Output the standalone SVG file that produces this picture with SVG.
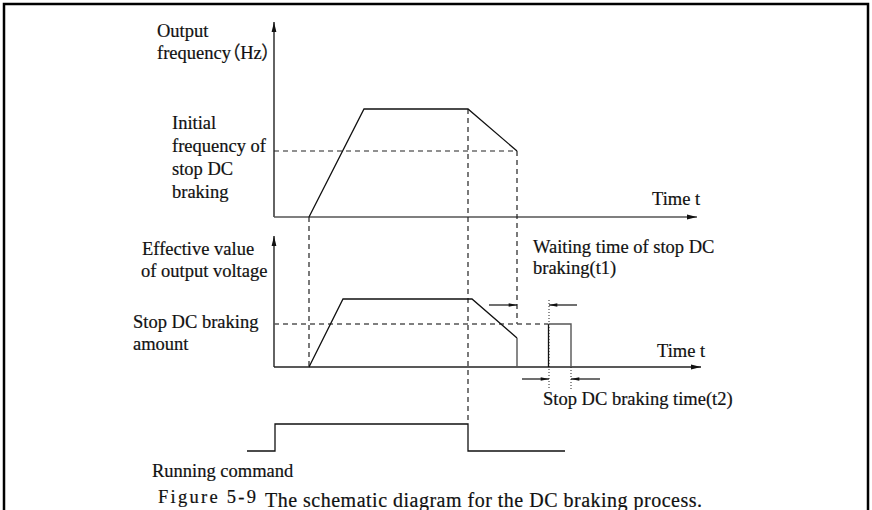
<svg xmlns="http://www.w3.org/2000/svg" width="872" height="510" viewBox="0 0 872 510">
<defs>
<style>
.t{font-family:"Liberation Serif","Noto Sans CJK SC",serif;font-size:18.5px;fill:#111;stroke:#111;stroke-width:0.2;font-feature-settings:"palt";}
.ax{stroke:#222;stroke-width:1.4;fill:none;}
.axg{stroke:#555;stroke-width:1.6;fill:none;}
.w{stroke:#111;stroke-width:1.3;fill:none;}
.wg{stroke:#555;stroke-width:1.4;fill:none;}
.d{stroke:#222;stroke-width:1.2;fill:none;stroke-dasharray:5,4;}
.dg{stroke:#555;stroke-width:1.4;fill:none;stroke-dasharray:5,4;}
.dot{stroke:#222;stroke-width:1;fill:none;stroke-dasharray:1,2;}
.ar{stroke:#111;stroke-width:1.2;fill:none;}
</style>
<marker id="ah" viewBox="0 0 10 6" refX="10" refY="3" markerWidth="10" markerHeight="6" markerUnits="userSpaceOnUse" orient="auto">
<path d="M0,0.6 L10,3 L0,5.4 Z" fill="#111"/>
</marker>
<marker id="sh" viewBox="0 0 10 6" refX="10" refY="3" markerWidth="9" markerHeight="5" markerUnits="userSpaceOnUse" orient="auto">
<path d="M0,0.8 L10,3 L0,5.2 Z" fill="#111"/>
</marker>
</defs>
<rect x="0" y="0" width="872" height="510" fill="#fff"/>
<rect id="frame" x="4" y="4" width="864" height="530" fill="none" stroke="#000" stroke-width="2.5"/>

<g id="axes">
<line class="ax" x1="274" y1="217" x2="274" y2="22" marker-end="url(#ah)"/>
<line class="axg" x1="274" y1="217" x2="697" y2="217" marker-end="url(#ah)"/>
<line class="ax" x1="274" y1="367" x2="274" y2="236" marker-end="url(#ah)"/>
<line class="ax" x1="274" y1="367" x2="701" y2="367" marker-end="url(#ah)"/>
</g>

<g id="connectors">
<line class="d" x1="274" y1="151" x2="517" y2="151"/>
<line class="d" x1="309" y1="217" x2="309" y2="367"/>
<line class="d" x1="468" y1="109" x2="468" y2="424"/>
<line class="d" x1="517" y1="151" x2="517" y2="324"/>
<line class="dg" x1="274" y1="324" x2="548" y2="324"/>
<line class="dot" x1="549" y1="300" x2="549" y2="390"/>
<line class="dot" x1="571" y1="367" x2="571" y2="390"/>
<line class="ar" x1="489" y1="305" x2="517" y2="305" marker-end="url(#sh)"/>
<line class="ar" x1="577" y1="305" x2="549" y2="305" marker-end="url(#sh)"/>
<line class="ar" x1="522" y1="379" x2="549" y2="379" marker-end="url(#sh)"/>
<line class="ar" x1="600" y1="379" x2="571" y2="379" marker-end="url(#sh)"/>
</g>

<g id="freq-curve">
<polyline class="w" points="309,217 364,109 468,109 517,151"/>
</g>
<g id="voltage-curve">
<polyline class="w" points="309,367 343,299 472,299 517,338"/>
<line class="wg" x1="517" y1="338" x2="517" y2="367"/>
<line class="w" x1="548.5" y1="367" x2="548.5" y2="324"/>
<polyline class="wg" points="548.5,324 571,324 571,367"/>
</g>
<g id="running-command">
<polyline class="w" points="247,451 275,451 275,424 468,424 468,451 565,451"/>
</g>

<g id="labels">
<text class="t" x="157" y="37">Output</text>
<text class="t" x="157" y="59">frequency（Hz）</text>
<text class="t" x="172" y="129">Initial</text>
<text class="t" x="172" y="152">frequency of</text>
<text class="t" x="172" y="175">stop DC</text>
<text class="t" x="172" y="198">braking</text>
<text class="t" x="652" y="205">Time t</text>
<text class="t" x="142" y="255">Effective value</text>
<text class="t" x="141" y="277">of output voltage</text>
<text class="t" x="133" y="328">Stop DC braking</text>
<text class="t" x="133" y="350">amount</text>
<text class="t" x="533" y="253">Waiting time of stop DC</text>
<text class="t" x="533" y="274">braking(t1)</text>
<text class="t" x="657" y="357">Time t</text>
<text class="t" x="543" y="405">Stop DC braking time(t2)</text>
<text class="t" x="152" y="477">Running command</text>
<text class="t" x="158" y="503" textLength="98" lengthAdjust="spacing">Figure 5-9</text>
<text class="t" x="265" y="507" style="font-size:20px" textLength="437" lengthAdjust="spacing">The schematic diagram for the DC braking process.</text>
</g>
</svg>
